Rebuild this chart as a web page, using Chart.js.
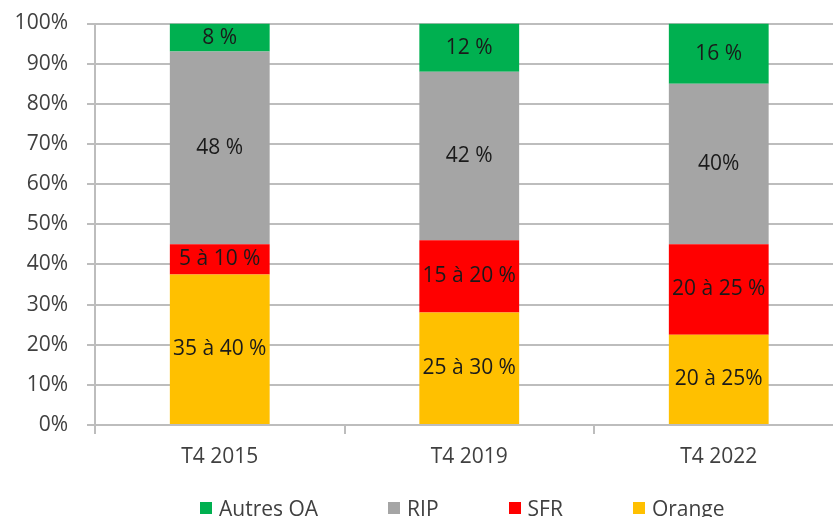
<!DOCTYPE html>
<html>
<head>
<meta charset="utf-8">
<script src="https://cdn.jsdelivr.net/npm/chart.js@4.4.1/dist/chart.umd.min.js"></script>
<style>
    html, body { margin: 0; padding: 0; background: #fff; width: 833px; height: 517px; overflow: hidden; }
    #wrap { position: relative; width: 845px; height: 517px; }
    #legend {
        position: absolute; left: 200px; top: 496px;
        display: flex; font-family: "Open Sans", sans-serif; font-size: 21px;
        line-height: 24px; color: #404040; white-space: nowrap;
    }
    #legend .item { display: flex; align-items: center; margin-right: 70px; }
    #legend .box { width: 12px; height: 12px; margin-right: 7px; }
</style>
</head>
<body>
<div id="wrap">
    <canvas id="chart" width="845" height="517"></canvas>
    <div id="legend"></div>
</div>
<script>
// categories and values (% of lines)
const categories = ['T4 2015', 'T4 2019', 'T4 2022'];
const orange = [37.5, 28, 22.5];
const sfr = [7.5, 18, 22.5];
const rip = [48, 42, 40];
const autres = [7, 12, 15];

// text printed in each segment
const orangeText = ['35 à 40 %', '25 à 30 %', '20 à 25%'];
const sfrText = ['5 à 10 %', '15 à 20 %', '20 à 25 %'];
const ripText = ['48 %', '42 %', '40%'];
const autresText = ['8 %', '12 %', '16 %'];

const yTicks = [0, 10, 20, 30, 40, 50, 60, 70, 80, 90, 100];

const FONT = '"Open Sans", sans-serif'
const gridColor = '#bdbdbd'

// Labels in the middle of each segment
const segmentLabels = {
    id: 'segmentLabels',
    afterDatasetsDraw(chart) {
        const ctx = chart.ctx
        ctx.save()
        ctx.font = '21px ' + FONT
        ctx.fillStyle = '#1a1a1a'
        ctx.textAlign = 'center'
        ctx.textBaseline = 'middle'
        chart.data.datasets.forEach((ds, i) => {
            chart.getDatasetMeta(i).data.forEach((bar, j) => {
                const p = bar.getProps(['x', 'y', 'base'], true)
                ctx.fillText(ds.segText[j], p.x, (p.y + p.base) / 2)
            })
        })
        ctx.restore()
    }
};

function draw() {
    const datasets = [
        { label: 'Orange', data: orange, segText: orangeText, backgroundColor: '#FFC000' },
        { label: 'SFR', data: sfr, segText: sfrText, backgroundColor: '#FF0000' },
        { label: 'RIP', data: rip, segText: ripText, backgroundColor: '#A5A5A5' },
        { label: 'Autres OA', data: autres, segText: autresText, backgroundColor: '#00B050' }
    ];

    new Chart(document.getElementById('chart'), {
        type: 'bar',
        data: {
            labels: categories,
            datasets: datasets.map(d => Object.assign(d, {
                barPercentage: 0.8,
                categoryPercentage: 0.5,
                borderWidth: 0
            }))
        },
        options: {
            responsive: false,
            animation: false,
            layout: { padding: { top: 23.5, right: 1.5, bottom: 0, left: 0 } },
            plugins: {
                legend: { display: false },
                tooltip: { enabled: false }
            },
            scales: {
                x: {
                    stacked: true,
                    afterFit: s => { s.height = 92 },
                    grid: { drawOnChartArea: false, color: gridColor, lineWidth: 2, tickLength: 9, offset: true },
                    border: { color: gridColor, width: 2 },
                    ticks: { color: '#404040', padding: 10, font: { family: FONT, size: 21 } }
                },
                y: {
                    stacked: true,
                    min: 0,
                    max: 100,
                    afterFit: s => {
                        s.width = 95
                        s.paddingTop = 0
                        s.paddingBottom = 0
                    },
                    afterBuildTicks: s => { s.ticks = yTicks.map(v => ({ value: v })) },
                    grid: { color: gridColor, lineWidth: 2, tickLength: 8 },
                    border: { color: gridColor, width: 2 },
                    ticks: {
                        color: '#404040',
                        padding: 19,
                        font: { family: FONT, size: 21 },
                        callback: v => v + '%'
                    }
                }
            }
        },
        plugins: [segmentLabels]
    });

    // legend, top series first
    const legend = document.getElementById('legend')
    datasets.slice().reverse().forEach(d => {
        const item = document.createElement('div')
        item.className = 'item'
        const box = document.createElement('span')
        box.className = 'box'
        box.style.background = d.backgroundColor
        item.appendChild(box)
        item.appendChild(document.createTextNode(d.label))
        legend.appendChild(item)
    })
}

document.fonts.load('21px "Open Sans"').then(draw, draw)
</script>
</body>
</html>
